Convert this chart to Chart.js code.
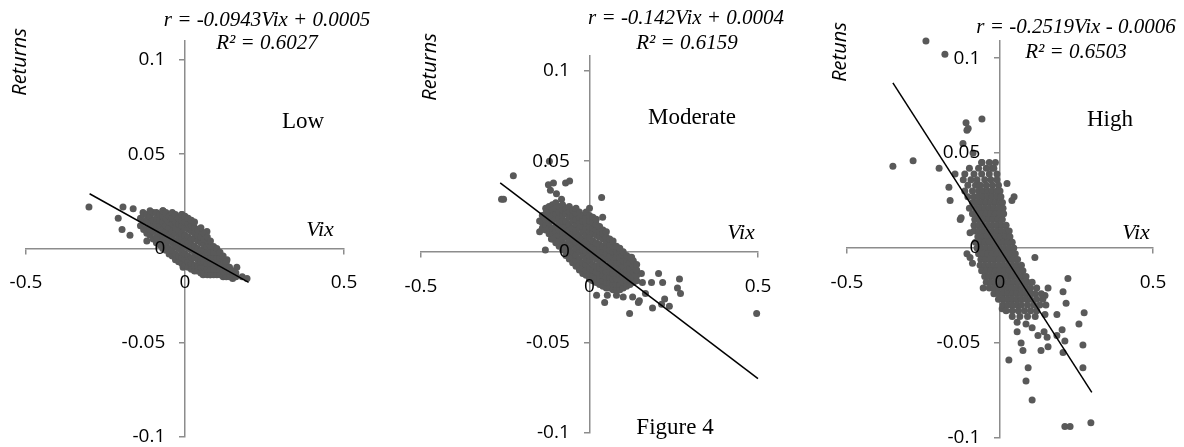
<!DOCTYPE html>
<html>
<head>
<meta charset="utf-8">
<script src="https://cdn.jsdelivr.net/npm/chart.js@4.4.0/dist/chart.umd.min.js"></script>
<style>
  html, body { margin: 0; padding: 0; background: #fff; }
  #wrap { position: relative; width: 1184px; height: 447px; }
  #wrap canvas { position: absolute; top: 0; }
</style>
</head>
<body>
<div id="wrap">
  <canvas id="chart_low" width="395" height="447" style="left:0px"></canvas>
  <canvas id="chart_mod" width="395" height="447" style="left:395px"></canvas>
  <canvas id="chart_high" width="394" height="447" style="left:790px"></canvas>
</div>
<script>
var vixTicks = [-0.5, 0, 0.5];
var returnTicks = [-0.1, -0.05, 0, 0.05, 0.1];

// Low: [vix, return] outliers, then dense cloud as [vix, returns...]
var lowOutliers = [
  [-0.302, 0.022], [-0.195, 0.022], [-0.163, 0.021], [-0.210, 0.016], [-0.198, 0.010],
  [-0.173, 0.007], [-0.132, 0.019], [-0.120, 0.004], [-0.069, 0.020], [-0.010, 0.018],
  [-0.006, -0.010], [0.069, 0.009], [0.104, -0.002], [0.132, -0.006], [0.163, -0.010],
  [0.150, -0.016], [0.180, -0.015], [0.195, -0.016], [0.079, -0.014], [0.057, -0.014]
];
var lowCols = [
  [-0.14, 0.012, 0.016],
  [-0.13, 0.010, 0.014, 0.018],
  [-0.12, 0.008, 0.011, 0.015, 0.018],
  [-0.11, 0.007, 0.010, 0.013, 0.017, 0.020],
  [-0.10, 0.005, 0.009, 0.012, 0.015, 0.019],
  [-0.09, 0.003, 0.006, 0.010, 0.013, 0.016, 0.019],
  [-0.08, 0.002, 0.005, 0.008, 0.012, 0.015, 0.018],
  [-0.07, 0.000, 0.004, 0.007, 0.010, 0.014, 0.017, 0.020],
  [-0.06, -0.001, 0.002, 0.006, 0.009, 0.012, 0.016, 0.019],
  [-0.05, -0.003, 0.000, 0.004, 0.007, 0.011, 0.014, 0.017],
  [-0.04, -0.004, -0.001, 0.003, 0.006, 0.009, 0.013, 0.016, 0.019],
  [-0.03, -0.006, -0.003, 0.001, 0.004, 0.008, 0.011, 0.014, 0.018],
  [-0.02, -0.007, -0.004, 0.000, 0.003, 0.006, 0.010, 0.013, 0.016],
  [-0.01, -0.008, -0.005, -0.002, 0.002, 0.005, 0.008, 0.012, 0.015, 0.018],
  [0.00, -0.009, -0.006, -0.003, 0.001, 0.004, 0.007, 0.011, 0.014, 0.017],
  [0.01, -0.010, -0.007, -0.004, 0.000, 0.003, 0.006, 0.010, 0.013, 0.016],
  [0.02, -0.011, -0.008, -0.005, -0.001, 0.002, 0.005, 0.009, 0.012, 0.015],
  [0.03, -0.012, -0.009, -0.005, -0.002, 0.001, 0.005, 0.008, 0.011, 0.014],
  [0.04, -0.012, -0.009, -0.006, -0.003, 0.000, 0.004, 0.007, 0.010],
  [0.05, -0.013, -0.010, -0.007, -0.004, -0.001, 0.003, 0.006, 0.009, 0.011],
  [0.06, -0.013, -0.010, -0.007, -0.004, -0.001, 0.002, 0.005, 0.008],
  [0.07, -0.014, -0.011, -0.008, -0.005, -0.002, 0.001, 0.004, 0.006],
  [0.08, -0.014, -0.011, -0.008, -0.005, -0.002, 0.001, 0.004],
  [0.09, -0.014, -0.011, -0.008, -0.005, -0.002, 0.001],
  [0.10, -0.014, -0.011, -0.008, -0.005, -0.002, 0.000],
  [0.11, -0.014, -0.011, -0.008, -0.005, -0.002],
  [0.12, -0.015, -0.012, -0.009, -0.006, -0.004],
  [0.13, -0.015, -0.012, -0.009, -0.007],
  [0.14, -0.015, -0.012, -0.010],
  [0.15, -0.015, -0.012],
  [0.16, -0.015, -0.013]
];
var lowTrend = [[-0.30, 0.029], [0.20, -0.018]];

// Moderate
var modOutliers = [
  [-0.261, 0.029], [-0.255, 0.029], [-0.226, 0.042], [-0.119, 0.050], [-0.122, 0.037],
  [-0.107, 0.038], [-0.071, 0.038], [-0.059, 0.039], [-0.098, 0.032], [-0.083, 0.029],
  [-0.116, 0.034], [0.036, 0.030], [0.039, 0.019], [0.000, 0.024], [-0.148, 0.017],
  [-0.148, 0.011], [-0.131, 0.001], [-0.113, 0.007], [0.021, -0.024], [0.045, -0.028],
  [0.053, -0.024], [0.119, -0.034], [0.125, -0.003], [0.125, -0.007], [0.154, -0.012],
  [0.157, -0.017], [0.205, -0.012], [0.184, -0.017], [0.217, -0.017], [0.267, -0.015],
  [0.261, -0.020], [0.270, -0.023], [0.223, -0.026], [0.237, -0.030], [0.214, -0.029],
  [0.187, -0.031], [0.145, -0.028], [0.166, -0.023], [0.148, -0.027], [0.128, -0.025],
  [0.100, -0.025], [0.080, -0.024], [0.496, -0.034]
];
var modCols = [
  [-0.14, 0.013, 0.016, 0.020],
  [-0.13, 0.012, 0.015, 0.018, 0.021, 0.024],
  [-0.12, 0.010, 0.013, 0.016, 0.019, 0.022, 0.025],
  [-0.11, 0.007, 0.010, 0.013, 0.017, 0.020, 0.023, 0.026],
  [-0.10, 0.005, 0.008, 0.011, 0.014, 0.018, 0.021, 0.024, 0.027],
  [-0.09, 0.003, 0.006, 0.009, 0.012, 0.016, 0.019, 0.022, 0.025],
  [-0.08, 0.001, 0.004, 0.007, 0.010, 0.014, 0.017, 0.020, 0.023, 0.026],
  [-0.07, -0.002, 0.001, 0.004, 0.008, 0.011, 0.014, 0.017, 0.021, 0.024],
  [-0.06, -0.004, -0.001, 0.002, 0.006, 0.009, 0.012, 0.015, 0.019, 0.022, 0.025],
  [-0.05, -0.006, -0.003, 0.000, 0.004, 0.007, 0.010, 0.013, 0.017, 0.020, 0.023],
  [-0.04, -0.008, -0.005, -0.002, 0.002, 0.005, 0.008, 0.011, 0.015, 0.018, 0.021, 0.024],
  [-0.03, -0.010, -0.007, -0.004, 0.000, 0.003, 0.006, 0.009, 0.013, 0.016, 0.019, 0.022],
  [-0.02, -0.012, -0.009, -0.006, -0.002, 0.001, 0.004, 0.007, 0.011, 0.014, 0.017, 0.020],
  [-0.01, -0.013, -0.010, -0.007, -0.004, 0.000, 0.003, 0.006, 0.009, 0.013, 0.016, 0.019, 0.022],
  [0.00, -0.015, -0.012, -0.009, -0.005, -0.002, 0.001, 0.004, 0.008, 0.011, 0.014, 0.017, 0.020],
  [0.01, -0.016, -0.013, -0.010, -0.007, -0.003, 0.000, 0.003, 0.006, 0.010, 0.013, 0.016, 0.019],
  [0.02, -0.017, -0.014, -0.011, -0.008, -0.004, -0.001, 0.002, 0.005, 0.009, 0.012, 0.015, 0.018],
  [0.03, -0.018, -0.015, -0.012, -0.009, -0.006, -0.002, 0.001, 0.004, 0.008, 0.011, 0.014],
  [0.04, -0.019, -0.016, -0.013, -0.010, -0.007, -0.003, 0.000, 0.003, 0.007, 0.010, 0.012],
  [0.05, -0.020, -0.017, -0.014, -0.011, -0.008, -0.004, -0.001, 0.002, 0.005, 0.008, 0.011],
  [0.06, -0.020, -0.017, -0.014, -0.011, -0.008, -0.005, -0.002, 0.001, 0.004, 0.007],
  [0.07, -0.021, -0.018, -0.015, -0.012, -0.009, -0.006, -0.003, 0.000, 0.003, 0.006],
  [0.08, -0.021, -0.018, -0.015, -0.012, -0.009, -0.006, -0.003, 0.000, 0.003],
  [0.09, -0.021, -0.018, -0.015, -0.012, -0.009, -0.006, -0.003, 0.000, 0.002],
  [0.10, -0.020, -0.017, -0.014, -0.011, -0.008, -0.005, -0.002, 0.000],
  [0.11, -0.019, -0.016, -0.013, -0.010, -0.007, -0.004, -0.002],
  [0.12, -0.018, -0.015, -0.012, -0.009, -0.006, -0.003],
  [0.13, -0.017, -0.014, -0.011, -0.008, -0.005],
  [0.14, -0.016, -0.013, -0.010, -0.007]
];
var modTrend = [[-0.265, 0.038], [0.50, -0.070]];

// High: cloud kept as [return, vix...] rows since it is steep
var highOutliers = [
  [-0.242, 0.109], [-0.180, 0.102], [-0.350, 0.043], [-0.284, 0.046], [-0.199, 0.042],
  [-0.163, 0.025], [-0.167, 0.032], [-0.147, 0.039], [-0.127, 0.016], [-0.111, 0.066],
  [-0.108, 0.062], [-0.104, 0.063], [-0.059, 0.068], [-0.121, 0.055], [-0.088, 0.050],
  [-0.059, 0.045], [-0.026, 0.042], [0.023, 0.034], [0.046, 0.027], [0.039, 0.025],
  [-0.108, -0.003], [-0.098, -0.005], [-0.090, -0.008], [-0.098, 0.008], [-0.130, 0.015],
  [0.114, -0.005], [0.222, -0.016], [0.206, -0.023], [0.216, -0.029], [0.157, -0.021],
  [0.147, -0.025], [0.275, -0.034], [0.258, -0.040], [0.186, -0.035], [0.203, -0.043],
  [0.186, -0.046], [0.212, -0.049], [0.271, -0.051], [0.206, -0.055], [0.271, -0.063],
  [0.154, -0.047], [0.124, -0.046], [0.134, -0.054], [0.157, -0.052], [0.144, -0.044],
  [0.105, -0.042], [0.069, -0.050], [0.075, -0.054], [0.056, -0.044], [0.085, -0.040],
  [0.029, -0.059], [0.092, -0.063], [0.085, -0.070], [0.105, -0.080], [0.212, -0.094],
  [0.229, -0.094], [0.297, -0.092], [0.147, -0.035], [0.056, -0.039], [-0.055, -0.021],
  [0.007, -0.032]
];
var highRows = [
  [0.045, -0.06, -0.035, -0.015],
  [0.042, -0.10, -0.07, -0.045, -0.02],
  [0.039, -0.115, -0.085, -0.06, -0.035, -0.01],
  [0.036, -0.12, -0.095, -0.075, -0.05, -0.03, -0.01],
  [0.033, -0.105, -0.08, -0.065, -0.045, -0.025, -0.005],
  [0.030, -0.115, -0.09, -0.07, -0.055, -0.04, -0.025, -0.01, 0.0],
  [0.027, -0.105, -0.085, -0.07, -0.055, -0.04, -0.025, -0.01, 0.003],
  [0.024, -0.09, -0.075, -0.06, -0.045, -0.03, -0.015, 0.0, 0.008],
  [0.021, -0.10, -0.08, -0.065, -0.05, -0.035, -0.02, -0.005, 0.01],
  [0.018, -0.09, -0.075, -0.06, -0.045, -0.03, -0.015, 0.0, 0.012],
  [0.015, -0.0825, -0.0675, -0.0525, -0.0375, -0.0225, -0.0075, 0.0075],
  [0.012, -0.085, -0.07, -0.055, -0.04, -0.025, -0.01, 0.005, 0.02],
  [0.009, -0.085, -0.07, -0.055, -0.04, -0.025, -0.01, 0.005, 0.02, 0.03],
  [0.006, -0.0725, -0.0575, -0.0425, -0.0275, -0.0125, 0.0025, 0.0175, 0.0325],
  [0.003, -0.08, -0.065, -0.05, -0.035, -0.02, -0.005, 0.01, 0.025, 0.04],
  [0.000, -0.075, -0.06, -0.045, -0.03, -0.015, 0.0, 0.015, 0.03, 0.045],
  [-0.003, -0.07, -0.055, -0.04, -0.025, -0.01, 0.005, 0.02, 0.035, 0.05],
  [-0.006, -0.0625, -0.0475, -0.0325, -0.0175, -0.0025, 0.0125, 0.0275, 0.0425, 0.0575],
  [-0.009, -0.065, -0.05, -0.035, -0.02, -0.005, 0.01, 0.025, 0.04, 0.055, 0.07],
  [-0.012, -0.06, -0.045, -0.03, -0.015, 0.0, 0.015, 0.03, 0.045, 0.06, 0.075],
  [-0.015, -0.05, -0.035, -0.02, -0.005, 0.01, 0.025, 0.04, 0.055, 0.07, 0.085],
  [-0.018, -0.045, -0.03, -0.015, 0.0, 0.015, 0.03, 0.045, 0.06, 0.075, 0.09, 0.105],
  [-0.021, -0.035, -0.02, -0.005, 0.01, 0.025, 0.04, 0.055, 0.07, 0.085, 0.10, 0.12],
  [-0.024, -0.02, -0.005, 0.01, 0.025, 0.04, 0.055, 0.07, 0.085, 0.10, 0.115, 0.135],
  [-0.027, -0.005, 0.01, 0.025, 0.04, 0.055, 0.07, 0.085, 0.10, 0.12, 0.14],
  [-0.030, 0.01, 0.025, 0.04, 0.055, 0.07, 0.09, 0.11, 0.13, 0.15],
  [-0.033, 0.02, 0.04, 0.06, 0.08, 0.10, 0.12],
  [-0.036, 0.04, 0.065, 0.09, 0.115]
];
var highTrend = [[-0.35, 0.087], [0.30, -0.076]];

var POINT_COLOR = '#595959';
var AXIS_COLOR = '#8c8c8c';

function toPoints(pairs) {
  return pairs.map(function (p) { return { x: p[0], y: p[1] }; });
}
function fromCols(cols) {
  var out = [];
  cols.forEach(function (c) { for (var i = 1; i < c.length; i++) out.push({ x: c[0], y: c[i] }); });
  return out;
}
function fromRows(rows) {
  var out = [];
  rows.forEach(function (r) { for (var i = 1; i < r.length; i++) out.push({ x: r[i], y: r[0] }); });
  return out;
}

function notesPlugin(notes) {
  return {
    id: 'notes',
    afterDraw: function (chart) {
      var ctx = chart.ctx;
      notes.forEach(function (n) {
        ctx.save();
        ctx.font = n.font;
        ctx.fillStyle = '#000';
        ctx.textAlign = 'center';
        ctx.textBaseline = 'middle';
        ctx.translate(n.x, n.y);
        if (n.rotate) ctx.rotate(n.rotate);
        ctx.fillText(n.text, 0, 0);
        ctx.restore();
      });
    }
  };
}

function crearPanel(id, puntos, trend, pad, yMax, notes) {
  return new Chart(document.getElementById(id), {
    type: 'scatter',
    data: {
      datasets: [
        { data: toPoints(trend), showLine: true, borderColor: '#000', borderWidth: 1.5, pointRadius: 0, order: 0, clip: false },
        { data: puntos, pointRadius: 3.5, backgroundColor: POINT_COLOR, borderWidth: 0, order: 1, clip: false }
      ]
    },
    options: {
      responsive: false,
      animation: false,
      devicePixelRatio: 1,
      events: [],
      layout: { padding: pad },
      plugins: { legend: { display: false }, tooltip: { enabled: false } },
      scales: {
        x: {
          type: 'linear', min: -0.5, max: 0.5, position: { y: 0 },
          afterBuildTicks: function (s) { s.ticks = vixTicks.map(function (v) { return { value: v }; }); },
          afterFit: function (s) { s.height = 0; s.paddingLeft = 0; s.paddingRight = 0; },
          grid: { drawOnChartArea: false, tickLength: 5, color: AXIS_COLOR, lineWidth: 1.5 },
          border: { color: AXIS_COLOR, width: 1.5 },
          ticks: { padding: 18, color: '#000', maxRotation: 0, z: 1, font: { family: 'Open Sans', size: 19 },
                   callback: function (v) { return String(v); } }
        },
        y: {
          type: 'linear', min: -0.1, max: yMax, position: { x: 0 },
          afterBuildTicks: function (s) { s.ticks = returnTicks.map(function (v) { return { value: v }; }); },
          afterFit: function (s) { s.width = 0; s.paddingTop = 0; s.paddingBottom = 0; },
          grid: { drawOnChartArea: false, tickLength: 5, color: AXIS_COLOR, lineWidth: 1.5 },
          border: { color: AXIS_COLOR, width: 1.5 },
          // labels on a centred axis sit flush with the line, trailing spaces push them left
          ticks: { color: '#000', z: 1, font: { family: 'Open Sans', size: 19 },
                   callback: function (v) { return String(v) + '    '; } }
        }
      }
    },
    plugins: [notesPlugin(notes)]
  });
}

var EQ = 'italic 21px "Liberation Serif"';
var TAG = '23px "Liberation Serif"';
var VIX = 'italic 22px "Liberation Serif"';
var RET = 'italic 20px "Open Sans"';
var UP = -Math.PI / 2;

function init() {
  crearPanel('chart_low', toPoints(lowOutliers).concat(fromCols(lowCols)), lowTrend,
    { left: 26, right: 51, top: 41, bottom: 10 }, 0.11, [
      { text: 'r = -0.0943Vix + 0.0005', x: 267, y: 20, font: EQ },
      { text: 'R\u00b2 = 0.6027', x: 267, y: 43, font: EQ },
      { text: 'Low', x: 303, y: 122, font: TAG },
      { text: 'Vix', x: 320, y: 230, font: VIX },
      { text: 'Returns', x: 20, y: 62, font: RET, rotate: UP }
    ]);

  crearPanel('chart_mod', toPoints(modOutliers).concat(fromCols(modCols)), modTrend,
    { left: 26, right: 32, top: 56, bottom: 14 }, 0.108, [
      { text: 'r = -0.142Vix + 0.0004', x: 291, y: 18, font: EQ },
      { text: 'R\u00b2 = 0.6159', x: 292, y: 43, font: EQ },
      { text: 'Moderate', x: 297, y: 118, font: TAG },
      { text: 'Vix', x: 346, y: 233, font: VIX },
      { text: 'Returns', x: 35, y: 67, font: RET, rotate: UP },
      { text: 'Figure 4', x: 280, y: 428, font: TAG }
    ]);

  crearPanel('chart_high', toPoints(highOutliers).concat(fromRows(highRows)), highTrend,
    { left: 57, right: 31, top: 41, bottom: 9 }, 0.109, [
      { text: 'r = -0.2519Vix - 0.0006', x: 286, y: 27, font: EQ },
      { text: 'R\u00b2 = 0.6503', x: 286, y: 52, font: EQ },
      { text: 'High', x: 320, y: 120, font: TAG },
      { text: 'Vix', x: 346, y: 233, font: VIX },
      { text: 'Retuns', x: 50, y: 52, font: RET, rotate: UP }
    ]);
}

init();
</script>
</body>
</html>
